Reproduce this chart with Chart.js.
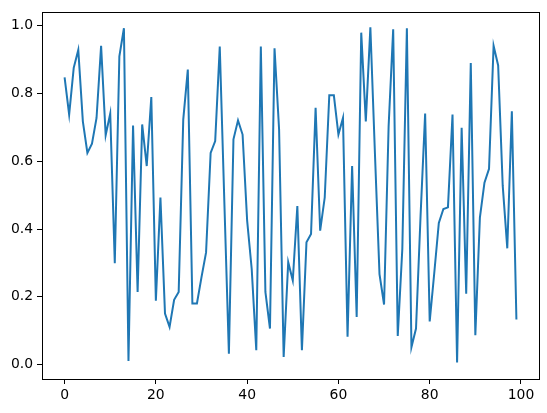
<!DOCTYPE html>
<html>
<head>
<meta charset="utf-8">
<script src="https://cdn.jsdelivr.net/npm/chart.js@4"></script>
<style>
  body { margin: 0; background: #fff; }
  canvas { display: block; }
</style>
</head>
<body>
<canvas id="grafico" width="547" height="413"></canvas>
<script>
const valores = [
  0.848, 0.738, 0.876, 0.929, 0.718, 0.625, 0.652, 0.728, 0.941, 0.677,
  0.741, 0.299, 0.910, 0.993, 0.010, 0.706, 0.214, 0.709, 0.586, 0.790,
  0.188, 0.493, 0.150, 0.111, 0.191, 0.214, 0.723, 0.871, 0.180, 0.180,
  0.258, 0.331, 0.625, 0.660, 0.939, 0.482, 0.032, 0.665, 0.721, 0.679,
  0.425, 0.282, 0.042, 0.939, 0.214, 0.106, 0.934, 0.694, 0.022, 0.302,
  0.248, 0.468, 0.042, 0.361, 0.385, 0.758, 0.395, 0.493, 0.795, 0.795,
  0.679, 0.728, 0.082, 0.586, 0.140, 0.980, 0.718, 0.996, 0.623, 0.267,
  0.177, 0.704, 0.990, 0.084, 0.341, 0.993, 0.051, 0.106, 0.439, 0.741,
  0.127, 0.270, 0.418, 0.459, 0.464, 0.738, 0.006, 0.699, 0.209, 0.890,
  0.086, 0.434, 0.537, 0.578, 0.941, 0.883, 0.528, 0.343, 0.748, 0.133
];
const indices = valores.map((v, i) => i);

const ticksX = [0, 20, 40, 60, 80, 100];
const ticksY = [0.0, 0.2, 0.4, 0.6, 0.8, 1.0];

const fonte = { family: 'DejaVu Sans', size: 13.9 };

// moldura dos 4 lados, como no matplotlib
const moldura = {
  id: 'moldura',
  afterDraw(chart) {
    const { ctx, chartArea: a } = chart;
    ctx.save();
    ctx.strokeStyle = '#000';
    ctx.lineWidth = 1;
    ctx.strokeRect(Math.round(a.left) + 0.5, Math.round(a.top) + 0.5,
      Math.round(a.right - a.left), Math.round(a.bottom - a.top));
    ctx.restore();
  }
};

const ctx = document.getElementById('grafico');

new Chart(ctx, {
  type: 'line',
  data: {
    labels: indices,
    datasets: [{
      data: valores,
      borderColor: '#1f77b4',
      borderWidth: 2,
      pointRadius: 0,
      tension: 0,
      fill: false
    }]
  },
  options: {
    responsive: false,
    animation: false,
    layout: { padding: { top: 11, right: 8, left: 0, bottom: 0 } },
    plugins: { legend: { display: false }, tooltip: { enabled: false } },
    scales: {
      x: {
        type: 'linear',
        min: -4.95,
        max: 103.95,
        afterBuildTicks: axis => { axis.ticks = ticksX.map(v => ({ value: v })); },
        afterFit: axis => { axis.height = 34; },
        border: { display: false },
        grid: { drawOnChartArea: false, drawTicks: true, tickLength: 5, color: '#000' },
        ticks: { color: '#000', font: fonte, padding: 3, maxRotation: 0, callback: v => String(v) }
      },
      y: {
        min: -0.043,
        max: 1.04,
        afterBuildTicks: axis => { axis.ticks = ticksY.map(v => ({ value: v })); },
        afterFit: axis => { axis.width = 42; },
        border: { display: false },
        grid: { drawOnChartArea: false, drawTicks: true, tickLength: 5, color: '#000' },
        ticks: { color: '#000', font: fonte, padding: 4, callback: v => v.toFixed(1) }
      }
    }
  },
  plugins: [moldura]
});
</script>
</body>
</html>
